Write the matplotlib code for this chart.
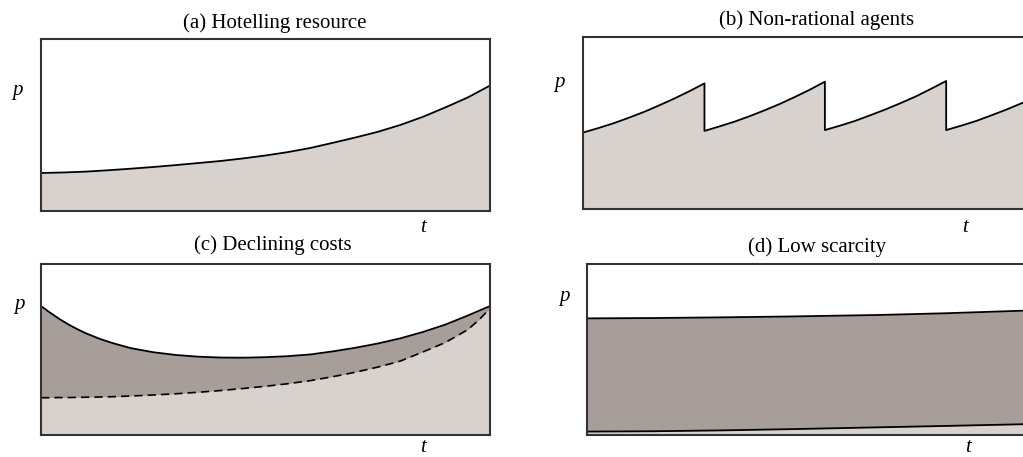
import matplotlib.pyplot as plt

plt.rcParams['font.family'] = ['Liberation Serif', 'DejaVu Serif']

W, H = 1023, 457
LIGHT = '#d8d2cf'
DARK = '#a79e9a'
FRAME = '#333333'

# (a) Hotelling resource: price path
a_t = [0, 0.05, 0.1, 0.15, 0.2, 0.25, 0.3, 0.35, 0.4, 0.45, 0.5,
       0.55, 0.6, 0.65, 0.7, 0.75, 0.8, 0.85, 0.9, 0.95, 1.0]
a_p = [0.220, 0.223, 0.228, 0.236, 0.245, 0.255, 0.266, 0.278, 0.290, 0.305, 0.322,
       0.342, 0.366, 0.396, 0.427, 0.460, 0.500, 0.547, 0.602, 0.660, 0.730]

# (b) Non-rational agents: saw-tooth price path
b_t = [0, 0.034, 0.068, 0.102, 0.136, 0.169, 0.203, 0.237, 0.271,
       0.271, 0.304, 0.338, 0.372, 0.405, 0.439, 0.472, 0.506, 0.539,
       0.539, 0.573, 0.607, 0.640, 0.674, 0.708, 0.742, 0.775, 0.809,
       0.809, 0.843, 0.877, 0.910, 0.944, 0.978, 1.0]
b_p = [0.443, 0.469, 0.497, 0.529, 0.563, 0.600, 0.640, 0.683, 0.729,
       0.453, 0.479, 0.507, 0.539, 0.573, 0.610, 0.650, 0.693, 0.739,
       0.458, 0.484, 0.512, 0.544, 0.578, 0.615, 0.654, 0.697, 0.743,
       0.458, 0.484, 0.512, 0.544, 0.578, 0.615, 0.640]

# (c) Declining costs: price (solid) and scarcity rent (dashed)
c_t = [0, 0.02, 0.04, 0.06, 0.08, 0.1, 0.13, 0.16, 0.2, 0.25, 0.3, 0.35, 0.4,
       0.45, 0.5, 0.55, 0.6, 0.65, 0.7, 0.75, 0.8, 0.85, 0.9, 0.95, 0.975, 1.0]
c_price = [0.754, 0.716, 0.680, 0.648, 0.620, 0.595, 0.563, 0.537, 0.508,
           0.484, 0.468, 0.458, 0.453, 0.452, 0.455, 0.461, 0.471, 0.489,
           0.510, 0.535, 0.565, 0.602, 0.645, 0.698, 0.726, 0.754]
c_rent = [0.218, 0.218, 0.219, 0.219, 0.220, 0.221, 0.222, 0.224, 0.228,
          0.234, 0.241, 0.250, 0.260, 0.272, 0.285, 0.300, 0.318, 0.341,
          0.367, 0.397, 0.432, 0.485, 0.540, 0.615, 0.672, 0.740]

# (d) Low scarcity: price (upper) and rent (lower)
d_t = [0, 0.15, 0.3, 0.45, 0.653, 0.8, 0.972, 1.0]
d_price = [0.682, 0.684, 0.688, 0.693, 0.702, 0.712, 0.727, 0.730]
d_rent = [0.020, 0.022, 0.027, 0.034, 0.045, 0.053, 0.063, 0.066]

# axes boxes in pixels: left, right, top, bottom
boxes = {
    'a': (41, 490, 39.3, 210.7),
    'b': (582.7, 1032, 36.7, 209),
    'c': (41, 490, 264, 435),
    'd': (586.7, 1035.7, 264, 435),
}
titles = {
    'a': ('(a) Hotelling resource', 275, 23),
    'b': ('(b) Non-rational agents', 817, 20),
    'c': ('(c) Declining costs', 273, 245),
    'd': ('(d) Low scarcity', 817, 247),
}
p_pos = {'a': (17, 91), 'b': (559, 82), 'c': (19, 304), 'd': (564, 297)}
t_pos = {'a': (423, 228), 'b': (965, 227), 'c': (423, 448), 'd': (968, 447)}

fig = plt.figure(figsize=(W / 100, H / 100), dpi=100)


def make_axes(key):
    l, r, t, b = boxes[key]
    ax = fig.add_axes([l / W, 1 - b / H, (r - l) / W, (b - t) / H])
    ax.set_xlim(0, 1)
    ax.set_ylim(0, 1)
    ax.set_xticks([])
    ax.set_yticks([])
    for s in ax.spines.values():
        s.set_color(FRAME)
        s.set_linewidth(1.5)
        s.set_zorder(5)
    text, x, y = titles[key]
    fig.text(x / W, 1 - y / H, text, ha='center', va='center', fontsize=15)
    px, py = p_pos[key]
    fig.text(px / W, 1 - py / H, 'p', ha='center', va='center',
             fontsize=15, style='italic')
    tx, ty = t_pos[key]
    fig.text(tx / W, 1 - ty / H, 't', ha='center', va='center',
             fontsize=15, style='italic')
    return ax


ax = make_axes('a')
ax.fill_between(a_t, 0, a_p, color=LIGHT, lw=0)
ax.plot(a_t, a_p, color='black', lw=1.3)

ax = make_axes('b')
ax.fill_between(b_t, 0, b_p, color=LIGHT, lw=0)
ax.plot(b_t, b_p, color='black', lw=1.3)

ax = make_axes('c')
ax.fill_between(c_t, 0, c_rent, color=LIGHT, lw=0)
ax.fill_between(c_t, c_rent, c_price, color=DARK, lw=0)
ax.plot(c_t, c_price, color='black', lw=1.3)
ax.plot(c_t, c_rent, color='black', lw=1.2, dashes=(5, 3))

ax = make_axes('d')
ax.fill_between(d_t, 0, d_rent, color=LIGHT, lw=0)
ax.fill_between(d_t, d_rent, d_price, color=DARK, lw=0)
ax.plot(d_t, d_price, color='black', lw=1.3)
ax.plot(d_t, d_rent, color='black', lw=1.3)

fig.savefig('out.png', dpi=100)
